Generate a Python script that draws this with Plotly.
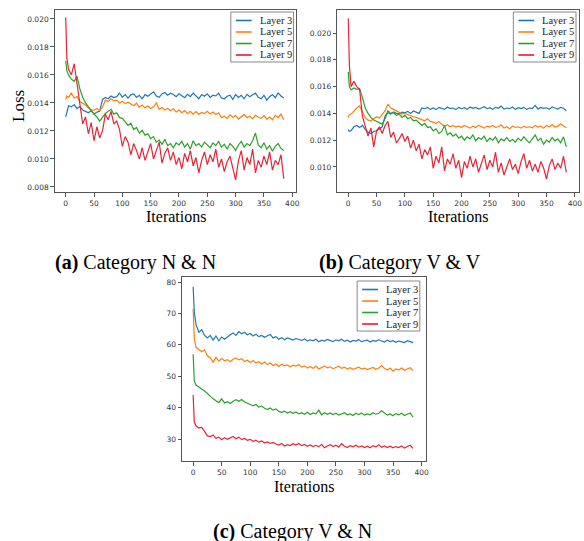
import plotly.graph_objects as go

# iteration index for each sampled value
iters = [0, 2] + list(range(5, 390, 5))

layer_names = ["Layer 3", "Layer 5", "Layer 7", "Layer 9"]
colors = ["#1f77b4", "#ff7f0e", "#2ca02c", "#e6192e"]

# ---- (a) Category N & N  (values in units of 1e-5) ----
a_l3 = [1300, 1335, 1380, 1372, 1388, 1360, 1375, 1350, 1340, 1330, 1345, 1320, 1335, 1340, 1425, 1440, 1430, 1450, 1438, 1445,
        1470, 1442, 1460, 1435, 1458, 1465, 1440, 1455, 1430, 1460, 1448, 1462, 1480, 1450, 1440, 1465, 1475, 1455, 1470, 1460,
        1445, 1465, 1450, 1438, 1462, 1445, 1470, 1450, 1430, 1460, 1448, 1465, 1440, 1455, 1450, 1470, 1435, 1430, 1448, 1455,
        1425, 1460, 1440, 1455, 1430, 1462, 1445, 1458, 1470, 1440, 1430, 1455, 1420, 1445, 1460, 1438, 1472, 1450, 1435]
a_l5 = [1425, 1450, 1440, 1470, 1435, 1445, 1410, 1400, 1385, 1365, 1350, 1348, 1360, 1345, 1370, 1420, 1410, 1430, 1415, 1420,
        1400, 1412, 1395, 1405, 1390, 1380, 1398, 1370, 1385, 1365, 1378, 1360, 1372, 1400, 1355, 1368, 1350, 1362, 1345, 1358,
        1335, 1350, 1330, 1345, 1325, 1340, 1320, 1338, 1318, 1332, 1325, 1340, 1322, 1335, 1318, 1330, 1295, 1305, 1290, 1315,
        1298, 1310, 1285, 1300, 1318, 1295, 1305, 1288, 1312, 1298, 1290, 1310, 1285, 1300, 1280, 1312, 1295, 1320, 1280]
a_l7 = [1700, 1630, 1600, 1570, 1555, 1590, 1500, 1440, 1400, 1370, 1345, 1320, 1300, 1270, 1300, 1325, 1340, 1355, 1320, 1330,
        1295, 1290, 1265, 1240, 1255, 1210, 1225, 1185, 1205, 1170, 1180, 1145, 1160, 1120, 1135, 1105, 1140, 1095, 1110, 1080,
        1115, 1100, 1125, 1085, 1110, 1070, 1130, 1095, 1110, 1085, 1120, 1100, 1080, 1115, 1095, 1125, 1085, 1105, 1070, 1110,
        1090, 1060, 1100, 1125, 1085, 1110, 1095, 1130, 1185, 1100, 1080, 1115, 1070, 1095, 1055, 1090, 1110, 1075, 1060]
a_l9 = [2010, 1720, 1640, 1600, 1680, 1540, 1380, 1250, 1300, 1180, 1260, 1130, 1230, 1150, 1200, 1320, 1280, 1340, 1250, 1270,
        1210, 1090, 1160, 1120, 1030, 1110, 1060, 1000, 1080, 990, 1050, 1110, 1000, 1060, 1120, 970, 1040, 1080, 990, 1050,
        960, 1010, 930, 1040, 980, 1060, 950, 1010, 900, 990, 1050, 960, 1030, 980, 1070, 940, 1000, 910, 980, 1020,
        930, 850, 990, 1060, 920, 1010, 960, 1070, 900, 990, 940, 1020, 960, 1050, 920, 990, 960, 1030, 860]

# ---- (b) Category V & V  (values in units of 1e-5) ----
b_l3 = [1280, 1265, 1272, 1300, 1310, 1295, 1310, 1280, 1260, 1250, 1265, 1270, 1285, 1300, 1380, 1405, 1395, 1410, 1400, 1395,
        1410, 1405, 1415, 1400, 1418, 1410, 1400, 1440, 1435, 1445, 1430, 1440, 1428, 1445, 1435, 1430, 1448, 1436, 1440, 1428,
        1445, 1435, 1442, 1430, 1448, 1438, 1445, 1432, 1440, 1450, 1435, 1442, 1430, 1445, 1438, 1455, 1432, 1440, 1435, 1448,
        1430, 1442, 1436, 1445, 1430, 1440, 1435, 1460, 1432, 1445, 1438, 1442, 1430, 1448, 1440, 1432, 1445, 1438, 1420]
b_l5 = [1370, 1390, 1395, 1420, 1440, 1455, 1410, 1370, 1350, 1345, 1360, 1375, 1365, 1395, 1420, 1470, 1440, 1430, 1420, 1405,
        1395, 1400, 1390, 1385, 1375, 1370, 1360, 1355, 1345, 1360, 1340, 1335, 1325, 1340, 1318, 1305, 1315, 1300, 1310, 1298,
        1305, 1295, 1310, 1300, 1290, 1305, 1295, 1312, 1300, 1290, 1305, 1298, 1310, 1295, 1300, 1315, 1290, 1300, 1285, 1305,
        1295, 1300, 1290, 1305, 1295, 1300, 1292, 1310, 1298, 1305, 1290, 1310, 1300, 1315, 1298, 1305, 1320, 1305, 1292]
b_l7 = [1710, 1600, 1575, 1590, 1580, 1585, 1520, 1440, 1400, 1370, 1350, 1340, 1330, 1320, 1360, 1420, 1400, 1405, 1385, 1395,
        1370, 1385, 1360, 1370, 1345, 1350, 1330, 1310, 1325, 1295, 1300, 1270, 1285, 1250, 1265, 1310, 1240, 1255, 1230, 1245,
        1215, 1230, 1200, 1225, 1210, 1240, 1195, 1220, 1205, 1230, 1190, 1215, 1200, 1225, 1180, 1210, 1195, 1220, 1190, 1205,
        1185, 1215, 1195, 1225, 1200, 1180, 1210, 1240, 1195, 1215, 1170, 1200, 1185, 1220, 1195, 1210, 1180, 1225, 1150]
b_l9 = [2110, 1760, 1600, 1640, 1600, 1580, 1380, 1300, 1230, 1290, 1150, 1270, 1300, 1250, 1310, 1340, 1220, 1260, 1180, 1210,
        1250, 1190, 1230, 1140, 1200, 1120, 1170, 1060, 1130, 1090, 1150, 990, 1080, 1030, 1150, 970, 1060, 1020, 1100, 990,
        1050, 920, 1040, 990, 1080, 1000, 1060, 960, 1030, 1090, 980, 1050, 1000, 1110, 960, 1030, 940, 1000, 1060, 980,
        1020, 950, 1040, 1100, 990, 1050, 970, 1020, 960, 1040, 990, 910, 1010, 1060, 980, 1030, 990, 1080, 960]

# ---- (c) Category V & N ----
c_l3 = [78.5, 70.5, 66.5, 64.0, 64.8, 63.0, 62.2, 63.0, 61.5, 62.8, 61.3, 62.5, 61.8, 62.6, 63.2, 63.8, 63.0, 64.2, 63.5, 64.0,
        63.2, 63.6, 62.8, 63.4, 62.6, 63.0, 62.4, 62.9, 63.3, 62.2, 62.6, 61.8, 62.3, 61.6, 62.2, 61.9, 61.5, 62.0, 61.7, 61.4,
        61.9, 61.2, 61.6, 61.3, 61.8, 61.0, 61.5, 61.2, 61.7, 61.4, 61.0, 61.6, 61.3, 61.8, 61.1, 61.5, 60.9, 61.4, 61.2, 61.6,
        61.0, 61.3, 61.5, 60.9, 61.4, 61.1, 61.6, 61.2, 60.9, 61.5, 61.0, 61.3, 60.8, 61.2, 61.0, 60.7, 61.3, 61.0, 60.7]
c_l5 = [71.5, 62.0, 59.2, 58.5, 57.8, 58.4, 56.5, 55.8, 54.5, 56.0, 54.8, 55.6, 54.9, 55.3, 54.6, 55.4, 55.8, 55.2, 55.6, 54.7,
        55.1, 54.4, 55.0, 54.2, 54.6, 53.9, 54.5, 53.7, 54.2, 53.4, 53.9, 53.1, 53.8, 53.3, 53.6, 53.0, 53.5, 53.2, 53.7, 52.9,
        53.3, 52.6, 53.1, 52.5, 53.2, 52.3, 52.9, 53.3, 52.7, 53.0, 52.4, 52.8, 53.2, 52.5, 52.9, 52.3, 52.7, 52.2, 52.6, 52.9,
        52.3, 52.6, 52.1, 52.5, 52.8, 52.2, 52.6, 53.4, 52.5, 52.0, 52.6, 51.6, 52.3, 52.0, 52.6, 51.9, 52.4, 52.7, 51.8]
c_l7 = [57.0, 48.5, 47.2, 46.6, 46.0, 45.3, 44.5, 43.6, 42.8, 42.2, 41.6, 42.8, 41.5, 41.9, 41.3, 42.0, 42.5, 42.0, 42.6, 41.8,
        41.5, 41.0, 40.6, 41.0, 40.2, 40.5, 39.8, 39.4, 39.9, 39.2, 39.6, 38.8, 38.5, 38.9, 38.3, 38.7, 38.2, 38.6, 38.0, 38.4,
        37.9, 38.5, 37.8, 38.3, 38.0, 39.2, 37.7, 38.4, 37.9, 38.3, 37.8, 38.2, 37.6, 38.1, 38.4, 37.7, 38.0, 37.5, 38.2, 37.8,
        38.3, 37.6, 38.0, 37.7, 38.4, 37.9, 38.2, 39.0, 38.3, 37.6, 38.0, 37.4, 38.1, 37.7, 38.2, 37.5, 37.9, 38.3, 37.0]
c_l9 = [44.0, 35.5, 34.2, 33.5, 33.8, 32.2, 31.0, 30.8, 31.3, 30.2, 30.6, 29.8, 30.4, 29.9, 30.3, 30.8, 30.1, 30.6, 29.8, 30.2,
        29.6, 29.9, 29.3, 29.6, 29.0, 29.4, 28.8, 29.1, 28.6, 28.9, 28.4, 28.1, 28.6, 27.8, 28.2, 27.9, 28.5, 28.1, 28.6, 27.9,
        28.3, 27.7, 28.1, 27.6, 28.0, 27.5, 28.3, 27.2, 27.8, 28.2, 27.6, 28.0, 27.4, 28.5, 27.7, 27.3, 27.9, 27.5, 28.0, 27.4,
        27.8, 27.3, 27.7, 27.2, 27.9, 27.5, 28.2, 27.4, 27.8, 27.3, 27.7, 27.2, 27.6, 27.3, 27.8, 27.1, 27.6, 28.0, 27.0]

W, H = 584, 541
SERIF = "Liberation Serif, Times New Roman, serif"
SANS = "DejaVu Sans, sans-serif"

panels = [
    # series, scale, xaxis id, yaxis id, box(px: left, right, top, bottom), yrange, yticks, tickfmt
    ([a_l3, a_l5, a_l7, a_l9], 1e-5, "x", "y", (55, 298, 10, 192), [0.00764, 0.02064],
     [0.008, 0.010, 0.012, 0.014, 0.016, 0.018, 0.020], ".3f"),
    ([b_l3, b_l5, b_l7, b_l9], 1e-5, "x2", "y2", (339, 582, 10, 192), [0.00813, 0.02172],
     [0.010, 0.012, 0.014, 0.016, 0.018, 0.020], ".3f"),
    ([c_l3, c_l5, c_l7, c_l9], 1.0, "x3", "y3", (183, 428, 277, 461), [23.0, 81.6],
     [30, 40, 50, 60, 70, 80], "d"),
]

fig = go.Figure()
layout = dict(
    width=W, height=H, margin=dict(l=0, r=0, t=0, b=0),
    paper_bgcolor="white", plot_bgcolor="white", showlegend=False,
    annotations=[], shapes=[],
)

xticks = [0, 50, 100, 150, 200, 250, 300, 350, 400]

for pi, (series, scale, xa, ya, box, yr, yt, fmt) in enumerate(panels):
    L, R, T, B = box
    for si, vals in enumerate(series):
        fig.add_trace(go.Scatter(
            x=iters[:len(vals)], y=[v * scale for v in vals], mode="lines",
            name=layer_names[si], line=dict(color=colors[si], width=1.2),
            opacity=0.95 if si == 3 else 1.0,
            xaxis=xa, yaxis=ya, showlegend=False,
        ))
    xkey = "xaxis" if xa == "x" else "xaxis" + xa[1:]
    ykey = "yaxis" if ya == "y" else "yaxis" + ya[1:]
    axis_common = dict(showline=True, mirror=True, linecolor="#555", linewidth=1,
                       ticks="outside", ticklen=3.5, tickcolor="#555", tickwidth=0.8,
                       showgrid=False, zeroline=False,
                       tickfont=dict(family=SANS, size=7.5, color="#333"))
    layout[xkey] = dict(domain=[L / W, R / W], anchor=ya, range=[-19.4, 407.4],
                        tickvals=xticks, ticktext=[str(t) for t in xticks], **axis_common)
    layout[ykey] = dict(domain=[1 - B / H, 1 - T / H], anchor=xa, range=yr,
                        tickvals=yt, tickformat=fmt, **axis_common)

    # x-axis title
    layout["annotations"].append(dict(
        text="Iterations", x=(L + R) / 2 / W, y=1 - (B + 25) / H,
        xref="paper", yref="paper", showarrow=False,
        font=dict(family=SERIF, size=16, color="black"), xanchor="center", yanchor="middle"))

    # manual compact legend (top-right of axes)
    lw, lh = 63, 50
    lx1 = R - 3 if pi != 2 else R - 6
    lx0 = lx1 - lw
    ly0 = T + 2 if pi != 2 else T + 4
    layout["shapes"].append(dict(type="rect", xref="paper", yref="paper",
                                 x0=lx0 / W, x1=lx1 / W, y0=1 - ly0 / H, y1=1 - (ly0 + lh) / H,
                                 line=dict(color="#888", width=1), fillcolor="white", layer="above"))
    for si, nm in enumerate(layer_names):
        yy = ly0 + 8.5 + 11.5 * si
        layout["shapes"].append(dict(type="line", xref="paper", yref="paper",
                                     x0=(lx0 + 5) / W, x1=(lx0 + 21) / W, y0=1 - yy / H, y1=1 - yy / H,
                                     line=dict(color=colors[si], width=1.6), layer="above"))
        layout["annotations"].append(dict(
            text=nm, x=(lx0 + 27) / W, y=1 - yy / H, xref="paper", yref="paper",
            showarrow=False, xanchor="left", yanchor="middle",
            font=dict(family=SERIF, size=10.5, color="#222")))

# y-axis title for (a)
layout["annotations"].append(dict(
    text="Loss", x=18 / W, y=1 - 106 / H, xref="paper", yref="paper", showarrow=False,
    textangle=-90, font=dict(family=SERIF, size=17, color="black"),
    xanchor="center", yanchor="middle"))

# sub-figure captions
captions = [("<b>(a)</b> Category N &amp; N", 136, 263),
            ("<b>(b)</b> Category V &amp; V", 402, 263),
            ("<b>(c)</b> Category V &amp; N", 294, 531)]
for txt, cx, cy in captions:
    layout["annotations"].append(dict(
        text=txt, x=cx / W, y=1 - cy / H, xref="paper", yref="paper", showarrow=False,
        xanchor="center", yanchor="middle", font=dict(family=SERIF, size=20, color="black")))

fig.update_layout(**layout)
fig.write_html("out.html", config={"displayModeBar": False},
               post_script="document.body.style.margin='0';document.body.style.overflow='hidden';")
